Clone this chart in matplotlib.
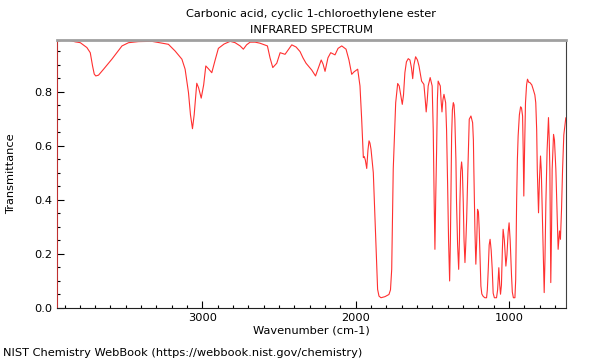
#!/usr/bin/env python3
"""IR spectrum, Carbonic acid, cyclic 1-chloroethylene ester (NIST style)."""
import matplotlib
matplotlib.use("Agg")
import matplotlib.pyplot as plt
from matplotlib.ticker import MultipleLocator

TITLE = "Carbonic acid, cyclic 1-chloroethylene ester\nINFRARED SPECTRUM"
FOOTER = "NIST Chemistry WebBook (https://webbook.nist.gov/chemistry)"

# wavenumber (cm-1)
wavenumber = [
    3949, 3939, 3908, 3882, 3862, 3829, 3797, 3754, 3732, 3717, 3706, 3696,
    3678, 3645, 3591, 3525, 3482, 3417, 3330, 3222, 3178, 3134, 3113, 3091,
    3078, 3065, 3054, 3037, 3025, 3008, 2992, 2978, 2960, 2939, 2917, 2896,
    2859, 2819, 2787, 2754, 2733, 2712, 2689, 2656, 2624, 2576, 2559, 2541,
    2515, 2493, 2461, 2417, 2389, 2363, 2344, 2324, 2287, 2262, 2243, 2225,
    2213, 2200, 2181, 2163, 2135, 2115, 2091, 2063, 2044, 2026, 2011, 1987,
    1972, 1961, 1950, 1944, 1937, 1928, 1920, 1913, 1907, 1900, 1885, 1870,
    1857, 1848, 1835, 1809, 1783, 1773, 1765, 1755, 1739, 1726, 1716, 1705,
    1696, 1688, 1679, 1669, 1657, 1646, 1636, 1628, 1620, 1609, 1597, 1587,
    1570, 1555, 1546, 1540, 1533, 1527, 1514, 1501, 1494, 1488, 1483, 1478,
    1472, 1467, 1462, 1448, 1443, 1437, 1431, 1424, 1413, 1407, 1400, 1394,
    1387, 1382, 1377, 1374, 1369, 1363, 1358, 1353, 1346, 1342, 1335, 1328,
    1323, 1320, 1315, 1309, 1304, 1298, 1293, 1287, 1282, 1276, 1268, 1259,
    1248, 1237, 1232, 1229, 1222, 1216, 1210, 1205, 1199, 1194, 1188, 1183,
    1177, 1168, 1157, 1146, 1141, 1135, 1129, 1123, 1116, 1109, 1103, 1095,
    1081, 1074, 1066, 1060, 1055, 1049, 1043, 1038, 1030, 1020, 1013, 1005,
    999, 992, 983, 978, 971, 961, 956, 950, 945, 940, 932, 924,
    918, 911, 907, 903, 898, 892, 885, 879, 870, 864, 851, 842,
    831, 825, 819, 815, 807, 801, 794, 789, 784, 777, 770, 765,
    759, 751, 742, 737, 733, 727, 722, 718, 709, 703, 694, 686,
    679, 670, 664, 657, 650, 642, 633, 629,
]

transmittance = [
    0.987, 0.987, 0.991, 0.990, 0.989, 0.984, 0.981, 0.963, 0.944, 0.895, 0.865, 0.858,
    0.861, 0.883, 0.920, 0.969, 0.981, 0.985, 0.986, 0.975, 0.950, 0.920, 0.883, 0.796,
    0.714, 0.663, 0.714, 0.831, 0.814, 0.776, 0.825, 0.895, 0.884, 0.870, 0.917, 0.960,
    0.976, 0.986, 0.981, 0.969, 0.957, 0.973, 0.983, 0.983, 0.979, 0.969, 0.925, 0.889,
    0.905, 0.944, 0.938, 0.973, 0.965, 0.948, 0.925, 0.905, 0.880, 0.858, 0.888, 0.917,
    0.902, 0.875, 0.925, 0.944, 0.936, 0.960, 0.969, 0.957, 0.917, 0.864, 0.873, 0.883,
    0.821, 0.698, 0.556, 0.560, 0.547, 0.516, 0.584, 0.618, 0.610, 0.587, 0.500, 0.266,
    0.069, 0.044, 0.038, 0.042, 0.050, 0.067, 0.143, 0.513, 0.759, 0.830, 0.821, 0.784,
    0.753, 0.788, 0.870, 0.910, 0.922, 0.917, 0.888, 0.848, 0.899, 0.929, 0.917, 0.895,
    0.839, 0.827, 0.769, 0.725, 0.769, 0.821, 0.852, 0.821, 0.658, 0.399, 0.217, 0.399,
    0.584, 0.769, 0.839, 0.821, 0.769, 0.725, 0.769, 0.790, 0.759, 0.658, 0.451, 0.251,
    0.100, 0.251, 0.510, 0.636, 0.732, 0.759, 0.751, 0.698, 0.547, 0.389, 0.233, 0.143,
    0.251, 0.389, 0.503, 0.540, 0.510, 0.389, 0.251, 0.168, 0.233, 0.328, 0.510, 0.698,
    0.710, 0.685, 0.621, 0.513, 0.288, 0.162, 0.251, 0.365, 0.355, 0.291, 0.178, 0.081,
    0.052, 0.043, 0.038, 0.038, 0.067, 0.143, 0.233, 0.254, 0.214, 0.143, 0.055, 0.038,
    0.038, 0.067, 0.149, 0.085, 0.051, 0.085, 0.214, 0.291, 0.251, 0.155, 0.196, 0.281,
    0.315, 0.251, 0.118, 0.059, 0.038, 0.038, 0.104, 0.389, 0.547, 0.636, 0.714, 0.744,
    0.740, 0.710, 0.584, 0.414, 0.584, 0.759, 0.825, 0.846, 0.834, 0.834, 0.825, 0.809,
    0.788, 0.759, 0.658, 0.510, 0.352, 0.473, 0.562, 0.510, 0.389, 0.214, 0.057, 0.178,
    0.389, 0.584, 0.704, 0.621, 0.513, 0.094, 0.288, 0.513, 0.642, 0.621, 0.513, 0.362,
    0.217, 0.285, 0.254, 0.362, 0.513, 0.640, 0.685, 0.703,
]

plt.rcParams.update({"font.size": 8.2, "font.family": "DejaVu Sans"})

fig = plt.figure(figsize=(6, 3.6), dpi=100)
ax = fig.add_axes([0.095, 0.1444, 0.848, 0.7453])

ax.plot(wavenumber, transmittance, color="#ff3030", lw=0.8)

ax.set_xlim(3949, 629)
ax.set_ylim(0, 0.992)
ax.xaxis.set_major_locator(MultipleLocator(1000))
ax.xaxis.set_minor_locator(MultipleLocator(100))
ax.yaxis.set_major_locator(MultipleLocator(0.2))
ax.yaxis.set_minor_locator(MultipleLocator(0.05))
ax.tick_params(which="both", direction="in", top=False, right=False)
ax.tick_params(which="major", length=5, width=0.8)
ax.tick_params(which="minor", length=2.5, width=0.8)
ax.set_yticks([0.0, 0.2, 0.4, 0.6, 0.8])
ax.set_yticklabels(["0.0", "0.2", "0.4", "0.6", "0.8"])

ax.spines["top"].set_color("#a0a0a0")
ax.spines["top"].set_linewidth(2)
ax.spines["right"].set_color("#404040")
ax.spines["left"].set_color("#c03030")
ax.spines["bottom"].set_color("#202020")

ax.set_xlabel("Wavenumber (cm-1)", labelpad=2)
ax.set_ylabel("Transmittance", labelpad=13)
ax.set_title(TITLE, fontsize=8.2, pad=4.5, linespacing=1.85)
fig.text(0.005, 1 - 353 / 360, FOOTER, ha="left", va="center", fontsize=8.2)

fig.savefig("out.png", dpi=100)
